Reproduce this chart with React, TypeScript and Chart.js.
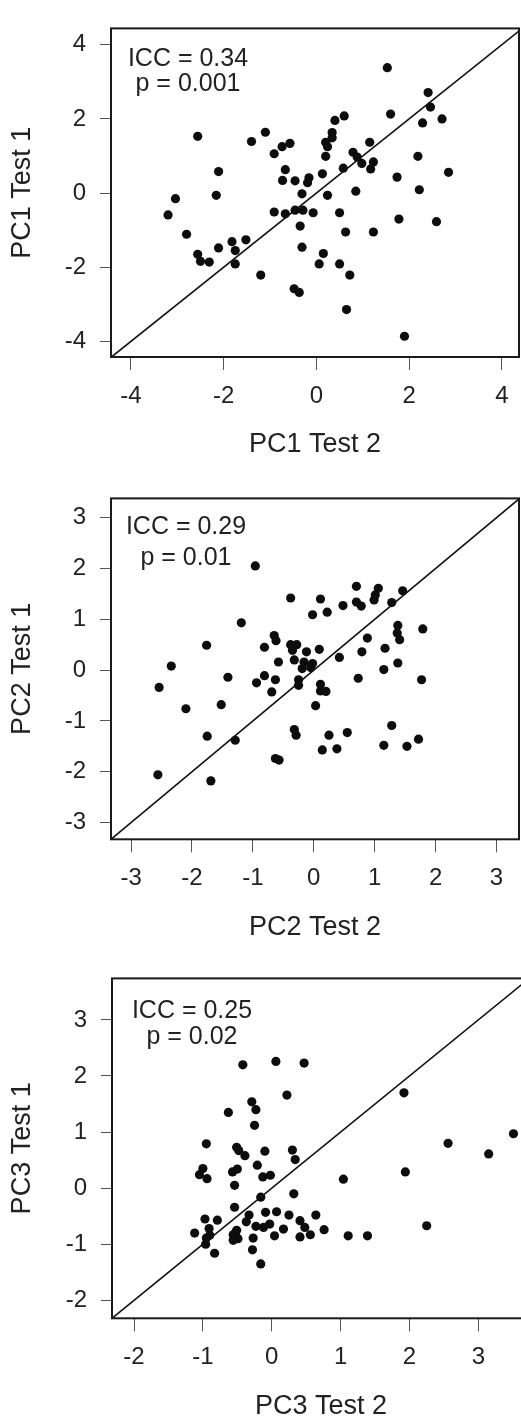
import React, { useEffect, useRef } from "react";
import { Chart, registerables } from "chart.js";

Chart.register(...registerables);
Chart.defaults.font.family = "'Liberation Sans', Arial, sans-serif";

// ---------- data ----------
const PC1_TEST2 = [
  1.53, 2.41, 2.46, 1.6, 2.71, 2.29, 0.6, 0.4, 0.34, 0.34, 0.2, 0.24, 0.2, -2.56, -1.1, -1.4, -0.57, -0.74, -0.91,
  1.15, 0.79, 0.88, 0.98, 1.23, 1.17, 2.19, 0.58, -2.11, 2.85, 1.74, -0.67, -0.73, -0.46, -0.16, -0.19, 0.13, 0.85,
  2.22, -3.04, -2.16, -0.31, 0.24, -3.2, -2.8, -2.11, -1.82, -1.52, -1.75, -2.56, -2.5, -2.31, -1.75, -1.2, -0.91,
  -0.67, -0.46, -0.29, -0.07, 0.5, -0.35, 0.63, 1.23, 1.78, 2.59, -0.31, 0.15, 0.06, 0.5, 0.72, -0.48, -0.37, 0.65, 1.9,
];
const PC1_TEST1 = [
  3.38, 2.71, 2.32, 2.13, 2.0, 1.89, 2.08, 1.96, 1.63, 1.49, 1.37, 1.25, 0.99, 1.53, 1.64, 1.39, 1.34, 1.25, 1.06,
  1.37, 1.1, 0.97, 0.8, 0.84, 0.65, 0.99, 0.67, 0.58, 0.56, 0.43, 0.63, 0.34, 0.33, 0.41, 0.28, 0.52, 0.05,
  0.09, -0.15, -0.06, -0.02, -0.06, -0.59, -1.11, -1.48, -1.31, -1.26, -1.55, -1.65, -1.84, -1.86, -1.91, -2.21, -0.51,
  -0.56, -0.46, -0.46, -0.53, -0.53, -0.89, -1.05, -1.05, -0.7, -0.77, -1.46, -1.63, -1.91, -1.91, -2.21, -2.58, -2.68, -3.14, -3.86,
];

const PC2_TEST2 = [
  -0.96, -0.38, 0.11, 0.7, 1.06, 1.01, 0.99, 1.46, 1.28, 0.7, 0.78, 0.48, 0.22, -0.02, -1.19, 1.38, 1.37, 1.41, 1.79,
  -1.76, -0.65, -0.62, -0.81, -0.38, -0.28, -0.35, 0.09, -0.12, 0.88, 0.79, 1.17, -0.32, -0.58, 0.42, 1.38, -2.34,
  -0.16, -0.02, -0.19, -0.05, 1.15, -2.54, -2.1, -1.41, -0.94, -0.81, -0.63, -0.69, -1.52, -0.25, -0.25, 0.11, 0.11,
  0.2, 0.03, 0.73, 1.77, -1.75, -1.29, -0.32, -0.29, 0.25, 0.55, 0.14, 0.38, 1.28, 1.15, 1.53, 1.72, -0.63, -0.57, -2.56, -1.69,
];
const PC2_TEST1 = [
  2.05, 1.42, 1.4, 1.65, 1.61, 1.48, 1.38, 1.56, 1.33, 1.34, 1.26, 1.27, 1.14, 1.09, 0.93, 0.88, 0.73, 0.6, 0.81,
  0.49, 0.68, 0.58, 0.45, 0.5, 0.5, 0.39, 0.41, 0.36, 0.63, 0.36, 0.43, 0.2, 0.16, 0.25, 0.14, 0.08,
  0.16, 0.13, 0.03, 0.05, 0.01, -0.34, -0.76, -0.14, -0.25, -0.11, -0.19, -0.43, -0.68, -0.19, -0.3, -0.28, -0.41,
  -0.42, -0.7, -0.16, -0.19, -1.3, -1.38, -1.17, -1.28, -1.28, -1.23, -1.57, -1.55, -1.09, -1.48, -1.5, -1.36, -1.74, -1.77, -2.06, -2.18,
];

const PC3_TEST2 = [
  -0.42, 0.06, 0.47, 0.22, 1.92, -0.29, -0.23, -0.63, -0.25, 3.51, -0.95, -0.51, 2.56, 3.15, -0.48, -0.39, -0.1,
  0.3, 0.34, -0.21, -1.0, -1.05, -0.94, -0.57, -0.5, -0.13, -0.02, 1.04, 1.94, -0.54, 0.32, -0.16, -0.54, -0.97,
  -0.79, -0.33, -0.37, -0.09, 0.07, 0.25, 0.64, 0.41, 0.48, -1.12, -0.91, -0.9, -0.95, -0.96, -0.83, -0.56, -0.51,
  -0.49, -0.56, -0.23, -0.12, -0.03, -0.27, 0.04, 0.17, 0.41, 0.56, 0.76, -0.28, -0.16, 1.11, 1.39, 2.25, -0.53,
];
const PC3_TEST1 = [
  2.2, 2.26, 2.23, 1.66, 1.7, 1.54, 1.4, 1.35, 1.12, 0.97, 0.79, 0.73, 0.8, 0.61, 0.67, 0.58, 0.66,
  0.68, 0.51, 0.41, 0.35, 0.24, 0.17, 0.29, 0.34, 0.2, 0.23, 0.16, 0.29, 0.05, -0.1, -0.16, -0.34, -0.55,
  -0.57, -0.48, -0.6, -0.43, -0.42, -0.48, -0.48, -0.58, -0.7, -0.8, -0.72, -0.84, -0.89, -1.0, -1.16, -0.83, -0.75,
  -0.9, -0.93, -0.68, -0.7, -0.64, -0.89, -0.85, -0.73, -0.87, -0.83, -0.74, -1.1, -1.35, -0.85, -0.85, -0.67, -0.8,
];

const TICKS_PC1 = [-4, -2, 0, 2, 4];
const TICKS_PC2 = [-3, -2, -1, 0, 1, 2, 3];
const X_TICKS_PC3 = [-2, -1, 0, 1, 2, 3];
const Y_TICKS_PC3 = [-2, -1, 0, 1, 2, 3];
const DIAGONAL = [-10, 10];

const NOTE_PC1 = ["ICC = 0.34", "p = 0.001"];
const NOTE_PC2 = ["ICC = 0.29", "p = 0.01"];
const NOTE_PC3 = ["ICC = 0.25", "p = 0.02"];

// ---------- layout ----------
const TITLE_SIZE = 27;
const X_AXIS_H = 88 + (TITLE_SIZE * 1.2) / 2;
const TEXT = "#222";

type PanelCfg = {
  top: number; width: number; height: number;
  chartLeft: number; chartRight: number; chartTop: number; chartBottom: number;
  xMin: number; xMax: number; yMin: number; yMax: number;
  xs: number[]; ys: number[]; xTicks: number[]; yTicks: number[];
  xTitle: string; yTitle: string;
  note: string[]; noteX: number; noteBase: number; noteGap: number;
};

const PANELS: PanelCfg[] = [
  {
    top: 0, width: 521, height: 470, chartLeft: 111, chartRight: 519, chartTop: 13, chartBottom: 357,
    xMin: -4.43, xMax: 4.37, yMin: -4.42, yMax: 4.44,
    xs: PC1_TEST2, ys: PC1_TEST1, xTicks: TICKS_PC1, yTicks: TICKS_PC1,
    xTitle: "PC1 Test 2", yTitle: "PC1 Test 1",
    note: NOTE_PC1, noteX: 77, noteBase: 38, noteGap: 25,
  },
  {
    top: 470, width: 521, height: 480, chartLeft: 111, chartRight: 519, chartTop: 15, chartBottom: 369.3,
    xMin: -3.33, xMax: 3.37, yMin: -3.33, yMax: 3.38,
    xs: PC2_TEST2, ys: PC2_TEST1, xTicks: TICKS_PC2, yTicks: TICKS_PC2,
    xTitle: "PC2 Test 2", yTitle: "PC2 Test 1",
    note: NOTE_PC2, noteX: 75, noteBase: 36, noteGap: 31,
  },
  {
    top: 950, width: 545, height: 471, chartLeft: 112, chartRight: 530, chartTop: 20, chartBottom: 368.3,
    xMin: -2.32, xMax: 3.75, yMin: -2.32, yMax: 3.74,
    xs: PC3_TEST2, ys: PC3_TEST1, xTicks: X_TICKS_PC3, yTicks: Y_TICKS_PC3,
    xTitle: "PC3 Test 2", yTitle: "PC3 Test 1",
    note: NOTE_PC3, noteX: 80, noteBase: 40, noteGap: 26,
  },
];

const frameAndNote = {
  id: "frameAndNote",
  afterDatasetsDraw(chart: any, _args: any, opts: any) {
    const { ctx, chartArea: a } = chart;
    ctx.save();
    ctx.strokeStyle = "#1a1a1a";
    ctx.lineWidth = 2;
    ctx.strokeRect(a.left, a.top, a.right - a.left, a.bottom - a.top);
    ctx.fillStyle = TEXT;
    ctx.font = "25px 'Liberation Sans', Arial, sans-serif";
    ctx.textAlign = "center";
    ctx.textBaseline = "alphabetic";
    (opts.lines || []).forEach((t: string, i: number) => {
      ctx.fillText(t, a.left + opts.cx, a.top + opts.base + i * opts.gap);
    });
    ctx.restore();
  },
};

function Panel({ cfg }: { cfg: PanelCfg }) {
  const ref = useRef<HTMLCanvasElement | null>(null);
  useEffect(() => {
    if (!ref.current) return;
    const points = cfg.xs.map((x, i) => ({ x, y: cfg.ys[i] }));
    const chart = new Chart(ref.current, {
      type: "scatter",
      data: {
        datasets: [
          {
            data: DIAGONAL.map((v) => ({ x: v, y: v })),
            showLine: true,
            borderColor: "#111",
            borderWidth: 1.6,
            pointRadius: 0,
            pointHoverRadius: 0,
            fill: false,
          } as any,
          {
            data: points,
            backgroundColor: "#0d0d0d",
            borderColor: "#0d0d0d",
            borderWidth: 0,
            pointRadius: 4.6,
            pointHoverRadius: 4.6,
          } as any,
        ],
      },
      plugins: [frameAndNote as any],
      options: {
        animation: false,
        responsive: false,
        events: [],
        layout: {
          autoPadding: false,
          padding: {
            left: 0,
            top: cfg.chartTop,
            right: cfg.width - cfg.chartRight,
            bottom: cfg.height - cfg.chartBottom - X_AXIS_H,
          },
        },
        plugins: {
          legend: { display: false },
          tooltip: { enabled: false },
          frameAndNote: { lines: cfg.note, cx: cfg.noteX, base: cfg.noteBase, gap: cfg.noteGap },
        } as any,
        scales: {
          x: {
            type: "linear",
            position: "bottom",
            min: cfg.xMin,
            max: cfg.xMax,
            afterBuildTicks: (s: any) => {
              s.ticks = cfg.xTicks.map((v) => ({ value: v }));
            },
            afterFit: (s: any) => {
              s.height = X_AXIS_H;
            },
            grid: { display: true, drawOnChartArea: false, drawTicks: true, tickLength: 13, color: "#555", lineWidth: 1 },
            border: { display: false },
            ticks: { padding: 11.6, color: TEXT, font: { size: 24 }, maxRotation: 0, autoSkip: false },
            title: { display: true, text: cfg.xTitle, color: TEXT, font: { size: TITLE_SIZE }, padding: { top: 0, bottom: 0 } },
          },
          y: {
            type: "linear",
            position: "left",
            min: cfg.yMin,
            max: cfg.yMax,
            afterBuildTicks: (s: any) => {
              s.ticks = cfg.yTicks.map((v) => ({ value: v }));
            },
            afterFit: (s: any) => {
              s.width = cfg.chartLeft;
            },
            grid: { display: true, drawOnChartArea: false, drawTicks: true, tickLength: 11, color: "#555", lineWidth: 1 },
            border: { display: false },
            ticks: { padding: 14, color: TEXT, font: { size: 24 }, autoSkip: false },
            title: { display: true, text: cfg.yTitle, color: TEXT, font: { size: TITLE_SIZE }, padding: { top: 22.5 - (TITLE_SIZE * 1.2) / 2, bottom: 0 } },
          },
        },
      } as any,
    });
    return () => chart.destroy();
  }, [cfg]);
  return (
    <canvas
      ref={ref}
      width={cfg.width}
      height={cfg.height}
      style={{ position: "absolute", left: 0, top: cfg.top, width: cfg.width, height: cfg.height }}
    />
  );
}

export default function App() {
  return (
    <div
      style={{
        position: "absolute",
        left: 0,
        top: 0,
        width: 521,
        height: 1421,
        overflow: "hidden",
        background: "#fff",
      }}
    >
      {PANELS.map((p, i) => (
        <Panel key={i} cfg={p} />
      ))}
    </div>
  );
}
